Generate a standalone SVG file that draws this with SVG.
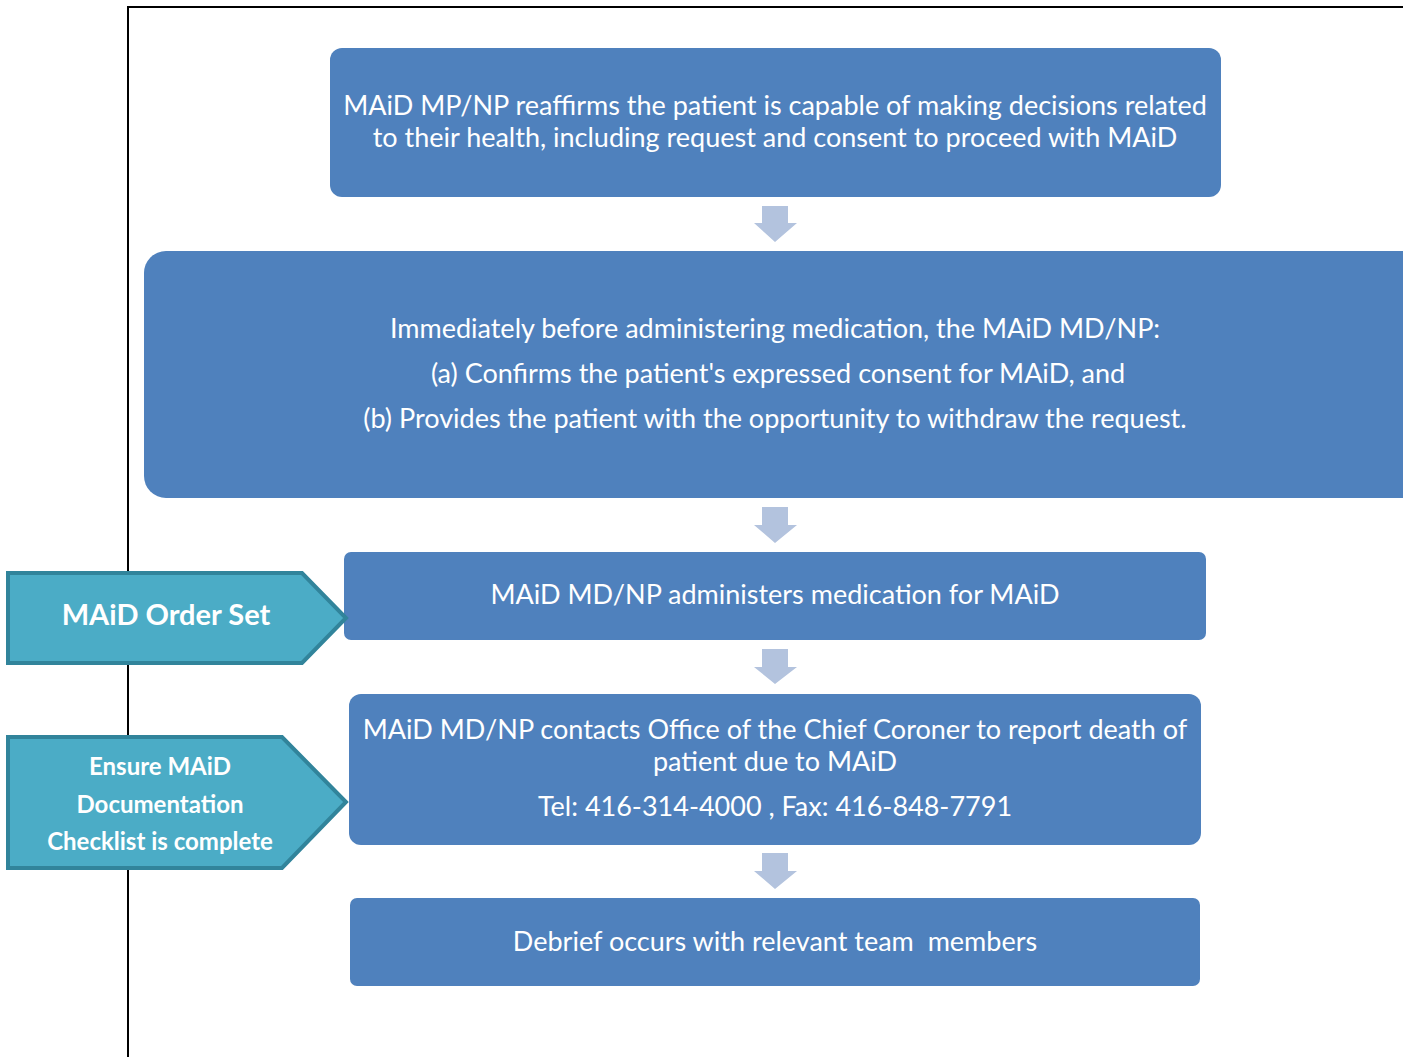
<svg xmlns="http://www.w3.org/2000/svg" width="1403" height="1057" viewBox="0 0 1403 1057">
<style>
.box{fill:#4F81BD;}
.t{font-family:Lato,"Liberation Sans",sans-serif;font-size:27px;fill:#FFFFFF;text-anchor:middle;white-space:pre;}
.side{fill:#4BACC6;stroke:#31849B;stroke-width:4;stroke-linejoin:miter;}
.st{font-family:Lato,"Liberation Sans",sans-serif;font-weight:bold;fill:#FFFFFF;text-anchor:middle;}
.arr{fill:#B3C3DE;}
</style>
<rect width="1403" height="1057" fill="#FFFFFF"/>
<g id="frame"><path d="M128,1057 V7 H1403" fill="none" stroke="#000000" stroke-width="2"/></g>
<g id="connectors">
<polygon class="arr" points="762,206 788,206 788,223 797,223 775,242 754,223 762,223"/>
<polygon class="arr" points="762,507 788,507 788,525 797,525 775,543 754,525 762,525"/>
<polygon class="arr" points="762,649 788,649 788,667 797,667 775,684 754,667 762,667"/>
<polygon class="arr" points="762,853 788,853 788,871 797,871 775,889 754,871 762,871"/>
</g>
<g id="node1">
<rect class="box" x="330" y="48" width="891" height="149" rx="12"/>
<text class="t" x="775" y="115">MAiD MP/NP reaffirms the patient is capable of making decisions related</text>
<text class="t" x="775" y="147">to their health, including request and consent to proceed with MAiD</text>
</g>
<g id="node2">
<rect class="box" x="144" y="251" width="1280" height="247" rx="22"/>
<text class="t" x="775" y="338">Immediately before administering medication, the MAiD MD/NP:</text>
<text class="t" x="778" y="383">(a) Confirms the patient's expressed consent for MAiD, and</text>
<text class="t" x="775" y="428">(b) Provides the patient with the opportunity to withdraw the request.</text>
</g>
<g id="node3">
<rect class="box" x="344" y="552" width="862" height="88" rx="7"/>
<text class="t" x="775" y="604">MAiD MD/NP administers medication for MAiD</text>
</g>
<g id="node4">
<rect class="box" x="349" y="694" width="852" height="151" rx="12"/>
<text class="t" x="775" y="739">MAiD MD/NP contacts Office of the Chief Coroner to report death of</text>
<text class="t" x="775" y="771">patient due to MAiD</text>
<text class="t" x="775" y="816">Tel: 416-314-4000 , Fax: 416-848-7791</text>
</g>
<g id="node5">
<rect class="box" x="350" y="898" width="850" height="88" rx="7"/>
<text class="t" x="775" y="951" xml:space="preserve">Debrief occurs with relevant team  members</text>
</g>
<g id="side1">
<polygon class="side" points="8,573 302,573 346,618 302,663 8,663"/>
<text class="st" x="166" y="625" font-size="29">MAiD Order Set</text>
</g>
<g id="side2">
<polygon class="side" points="8,737 282,737 346,802 282,868 8,868"/>
<text class="st" x="160" y="775" font-size="24">Ensure MAiD</text>
<text class="st" x="160" y="813" font-size="24">Documentation</text>
<text class="st" x="160" y="850" font-size="24">Checklist is complete</text>
</g>
</svg>
